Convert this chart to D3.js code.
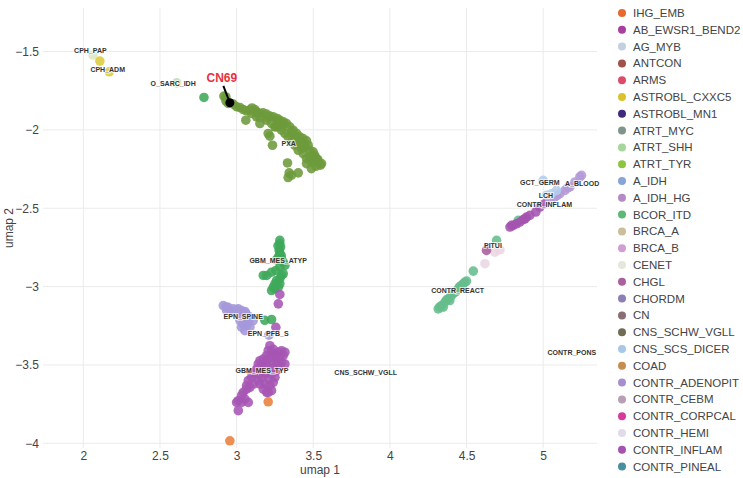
<!DOCTYPE html>
<html>
<head>
<meta charset="utf-8">
<script src="https://cdn.jsdelivr.net/npm/d3@7"></script>
<style>
  body { margin: 0; background: #fff; font-family: "Liberation Sans", Arial, sans-serif; }
  .grid line { stroke: #ebebeb; stroke-width: 1; }
  .tick text { fill: #444; font-size: 12px; font-family: "Liberation Sans", Arial, sans-serif; }
  .lbl { font-size: 7px; font-weight: bold; fill: #333; paint-order: stroke; stroke: rgba(255,255,255,0.7); stroke-width: 2px; }
</style>
</head>
<body>
<svg id="chart" width="743" height="478"></svg>
<script>
// umap coordinates
var pxa = [[2.917,-1.784],[2.930,-1.814],[2.945,-1.831],[2.978,-1.835],[2.999,-1.852],[3.021,-1.857],[3.043,-1.870],[3.065,-1.878],[3.086,-1.874],[3.119,-1.870],[3.130,-1.884],[3.152,-1.895],[3.173,-1.891],[3.195,-1.899],[3.217,-1.912],[3.238,-1.916],[3.265,-1.927],[3.282,-1.938],[3.304,-1.948],[3.325,-1.959],[3.347,-1.980],[3.369,-2.002],[3.391,-2.023],[3.412,-2.044],[3.434,-2.055],[3.456,-2.070],[3.467,-2.098],[3.445,-2.108],[3.423,-2.119],[3.478,-2.130],[3.499,-2.140],[3.510,-2.162],[3.521,-2.183],[3.532,-2.204],[3.547,-2.225],[3.517,-2.232],[3.488,-2.204],[3.456,-2.183],[3.434,-2.151],[3.402,-2.130],[3.380,-2.098],[3.358,-2.076],[3.336,-2.044],[3.315,-2.023],[3.293,-2.002],[3.271,-1.980],[3.249,-1.980],[3.228,-1.959],[3.195,-1.938],[3.152,-1.921],[3.130,-1.916],[3.097,-1.895],[3.060,-1.938],[3.152,-1.959],[3.206,-2.023],[3.217,-2.040],[3.234,-2.098],[3.332,-2.211],[3.343,-2.274],[3.336,-2.304],[3.358,-2.289],[3.402,-2.274],[3.256,-1.980],[3.293,-1.970],[3.358,-2.023],[3.391,-2.066],[3.412,-2.098],[3.478,-2.172],[3.504,-2.193],[3.456,-2.215],[3.554,-2.215],[3.488,-2.247],[3.10,-1.86],[3.20,-1.92],[3.30,-1.96],[3.38,-2.04],[3.44,-2.09],[3.50,-2.17],[3.53,-2.19],[3.27,-1.95],[3.36,-2.01],[3.42,-2.08],[2.93,-1.79]];

var gbmAtyp = [[3.282,-2.705],[3.282,-2.727],[3.287,-2.748],[3.278,-2.769],[3.282,-2.790],[3.272,-2.812],[3.293,-2.822],[3.304,-2.844],[3.315,-2.865],[3.282,-2.876],[3.256,-2.897],[3.228,-2.908],[3.196,-2.929],[3.174,-2.929],[3.293,-2.929],[3.282,-2.950],[3.261,-2.961],[3.250,-2.982],[3.239,-3.004],[3.228,-3.025],[3.250,-3.014],[3.272,-3.004],[3.282,-2.982],[3.304,-2.918],[3.27,-2.74],[3.29,-2.80],[3.26,-2.83],[3.184,-3.215],[3.228,-3.210],[2.787,-1.793]];

var epnSpine = [[2.913,-3.121],[2.945,-3.132],[2.978,-3.142],[3.011,-3.142],[3.032,-3.153],[3.054,-3.159],[3.065,-3.185],[3.087,-3.195],[3.043,-3.185],[3.000,-3.174],[2.967,-3.168],[2.935,-3.153],[3.022,-3.217],[3.043,-3.238],[3.065,-3.249],[3.087,-3.259],[3.032,-3.259],[3.054,-3.281],[3.076,-3.227],[3.108,-3.217],[2.93,-3.13],[3.0,-3.15],[3.06,-3.17],[3.21,-3.31]];

var gbmTyp = [[3.217,-3.377],[3.206,-3.409],[3.228,-3.419],[3.250,-3.430],[3.272,-3.419],[3.293,-3.409],[3.315,-3.419],[3.304,-3.441],[3.282,-3.451],[3.261,-3.462],[3.228,-3.451],[3.196,-3.441],[3.174,-3.462],[3.152,-3.473],[3.141,-3.494],[3.163,-3.505],[3.196,-3.494],[3.228,-3.483],[3.261,-3.494],[3.293,-3.483],[3.315,-3.494],[3.130,-3.526],[3.119,-3.558],[3.098,-3.579],[3.076,-3.600],[3.065,-3.632],[3.087,-3.643],[3.109,-3.622],[3.141,-3.600],[3.163,-3.579],[3.185,-3.558],[3.228,-3.558],[3.250,-3.579],[3.239,-3.611],[3.217,-3.632],[3.228,-3.664],[3.206,-3.675],[3.174,-3.654],[3.152,-3.622],[3.043,-3.675],[3.032,-3.696],[3.011,-3.728],[3.000,-3.739],[3.054,-3.718],[3.076,-3.739],[3.032,-3.739],[3.011,-3.792],[3.065,-3.654],[3.261,-3.536],[3.282,-3.515],[3.185,-3.622],[3.196,-3.675],[3.282,-3.05],[3.272,-3.11],[3.256,-3.26],[3.24,-3.40],[3.27,-3.45],[3.20,-3.47],[3.18,-3.52],[3.24,-3.52],[3.10,-3.55],[3.15,-3.55],[3.21,-3.59]];

var ihgEmb = [[3.206,-3.735],[2.956,-3.984]];

var contrReact = [[4.315,-3.142],[4.337,-3.121],[4.359,-3.099],[4.380,-3.078],[4.402,-3.057],[4.424,-3.036],[4.446,-3.014],[4.467,-2.993],[4.489,-2.972],[4.500,-2.965],[4.544,-2.901],[4.348,-3.131],[4.391,-3.089],[4.435,-3.029],[4.478,-2.982],[4.325,-3.130],[4.37,-3.085],[4.41,-3.045],[4.455,-3.0],[4.837,-2.577],[4.696,-2.705]];

var contrHemi = [[4.620,-2.854],[4.685,-2.780],[4.718,-2.765],[4.641,-2.752]];
var chgl = [[4.630,-2.769]];

var contrInflam = [[4.783,-2.620],[4.805,-2.609],[4.826,-2.599],[4.848,-2.588],[4.870,-2.573],[4.891,-2.556],[4.913,-2.545],[4.952,-2.524],[4.978,-2.492],[4.794,-2.609],[4.881,-2.567],[5.011,-2.471]];
var contrAdenopit = [[5.044,-2.449],[5.076,-2.428],[5.109,-2.407],[5.142,-2.386],[5.174,-2.364],[5.207,-2.332],[5.239,-2.300],[5.250,-2.290],[5.09,-2.42],[5.16,-2.37]];
var scsDicer = [[5.000,-2.322],[5.022,-2.418],[5.055,-2.407],[5.087,-2.386]];

var oSarc = [[2.609,-1.700]];
var cphPap = [[2.063,-1.522]];
var cphAdm = [[2.108,-1.561],[2.169,-1.629]];
var cn69 = [2.956,-1.827];

var clusterLabels = ["CPH_PAP","CPH_ADM","O_SARC_IDH","PXA","GBM_MES_ATYP","EPN_SPINE","EPN_PFB_S","GBM_MES_TYP","CNS_SCHW_VGLL","CONTR_REACT","PITUI","GCT_GERM","A_BLOOD","LCH","CONTR_INFLAM","CONTR_PONS"];
var labelX = [2.046,2.159,2.586,3.340,3.271,3.043,3.206,3.165,3.842,4.442,4.672,4.978,5.254,5.018,5.008,5.187];
var labelY = [-1.495,-1.617,-1.702,-2.087,-2.833,-3.189,-3.302,-3.536,-3.547,-3.025,-2.737,-2.339,-2.343,-2.417,-2.477,-3.419];

var xTicks = [2, 2.5, 3, 3.5, 4, 4.5, 5];
var yTicks = [-1.5, -2, -2.5, -3, -3.5, -4];

var legendNames = ["IHG_EMB","AB_EWSR1_BEND2","AG_MYB","ANTCON","ARMS","ASTROBL_CXXC5","ASTROBL_MN1","ATRT_MYC","ATRT_SHH","ATRT_TYR","A_IDH","A_IDH_HG","BCOR_ITD","BRCA_A","BRCA_B","CENET","CHGL","CHORDM","CN","CNS_SCHW_VGLL","CNS_SCS_DICER","COAD","CONTR_ADENOPIT","CONTR_CEBM","CONTR_CORPCAL","CONTR_HEMI","CONTR_INFLAM","CONTR_PINEAL"];
var legendColors = ["#e8692f","#a63fa0","#c5cfe0","#a0524a","#dd4b6a","#d9c22e","#3f2a7a","#7f958c","#a5d69a","#8cc63f","#86a5d6","#b48ac6","#5cb874","#cbbf9b","#cf9fd3","#e6e6dd","#a9609c","#8c7fb5","#8a6f72","#6f6b55","#a9c7e8","#c58e50","#a78fcf","#b7a0b5","#d63a9a","#e2dae8","#a553b0","#4a8fa0"];

// plot groups: data + colour
var groups = [
  {pts: cphPap, color: "#dfe6c4"},
  {pts: cphAdm, color: "#dccc3a"},
  {pts: oSarc, color: "#b8dfb4"},
  {pts: pxa, color: "#6d9b3b"},
  {pts: gbmAtyp, color: "#3fa85a"},
  {pts: epnSpine, color: "#a597db"},
  {pts: gbmTyp, color: "#a655b4"},
  {pts: ihgEmb, color: "#e8803a"},
  {pts: contrReact, color: "#66bd8c"},
  {pts: contrHemi, color: "#ead6e3"},
  {pts: chgl, color: "#a9609c"},
  {pts: contrInflam, color: "#a553b0"},
  {pts: contrAdenopit, color: "#b49bd8"},
  {pts: scsDicer, color: "#b4cdea"}
];

var svg = d3.select("#chart");
var plotL = 43, plotR = 597, plotT = 8, plotB = 448;

var x = d3.scaleLinear().domain([1.737, 5.351]).range([plotL, plotR]);
var y = d3.scaleLinear().domain([-4.03, -1.222]).range([plotB, plotT]);

// grid
var grid = svg.append("g").attr("class", "grid");
grid.selectAll(".vx").data(xTicks).enter().append("line")
  .attr("x1", d => x(d)).attr("x2", d => x(d))
  .attr("y1", plotT).attr("y2", plotB);
grid.selectAll(".hy").data(yTicks).enter().append("line")
  .attr("x1", plotL).attr("x2", plotR)
  .attr("y1", d => y(d)).attr("y2", d => y(d));

var fmt = d => (d < 0 ? "\u2212" + Math.abs(d) : "" + d);

svg.append("g")
  .attr("transform", `translate(0, ${plotB})`)
  .call(d3.axisBottom(x).tickValues(xTicks).tickSize(0).tickPadding(3).tickFormat(fmt))
  .call(g => g.select(".domain").remove());

svg.append("g")
  .attr("transform", `translate(${plotL}, 0)`)
  .call(d3.axisLeft(y).tickValues(yTicks).tickSize(0).tickPadding(4).tickFormat(fmt))
  .call(g => g.select(".domain").remove());

svg.append("text").attr("x", (plotL + plotR) / 2).attr("y", 474)
  .attr("text-anchor", "middle").attr("fill", "#444").style("font-size", "12px").text("umap 1");
svg.append("text").attr("transform", `translate(13, ${(plotT + plotB) / 2}) rotate(-90)`)
  .attr("text-anchor", "middle").attr("fill", "#444").style("font-size", "12px").text("umap 2");

// points
var pg = svg.append("g");
groups.forEach(function(gr) {
  pg.append("g").selectAll("circle")
    .data(gr.pts).enter()
    .append("circle")
    .attr("cx", d => x(d[0]))
    .attr("cy", d => y(d[1]))
    .attr("r", 4.8)
    .attr("fill", gr.color)
    .attr("opacity", 0.88);
});

// labels
svg.append("g").selectAll("text")
  .data(clusterLabels).enter()
  .append("text")
  .attr("class", "lbl")
  .attr("x", (d, i) => x(labelX[i]))
  .attr("y", (d, i) => y(labelY[i]))
  .attr("dy", "0.35em")
  .attr("text-anchor", "middle")
  .text(d => d);

// CN69 annotation
svg.append("line")
  .attr("x1", x(cn69[0]) - 6.5).attr("y1", y(cn69[1]) - 17)
  .attr("x2", x(cn69[0])).attr("y2", y(cn69[1]))
  .attr("stroke", "#000").attr("stroke-width", 2);
svg.append("circle")
  .attr("cx", x(cn69[0])).attr("cy", y(cn69[1])).attr("r", 4.5).attr("fill", "#000");
svg.append("text")
  .attr("x", x(cn69[0]) - 8).attr("y", y(cn69[1]) - 21)
  .attr("text-anchor", "middle").attr("fill", "#e8323c")
  .style("font-size", "12px").style("font-weight", "bold").text("CN69");

// legend
var lg = svg.append("g").attr("transform", "translate(622, 13)");
var items = lg.selectAll("g").data(legendNames).enter().append("g")
  .attr("transform", (d, i) => `translate(0, ${i * 16.8})`);
items.append("circle").attr("r", 4).attr("fill", (d, i) => legendColors[i]);
items.append("text").attr("x", 11).attr("dy", "0.35em")
  .attr("fill", "#444").style("font-size", "11.5px").text(d => d);
</script>
</body>
</html>
